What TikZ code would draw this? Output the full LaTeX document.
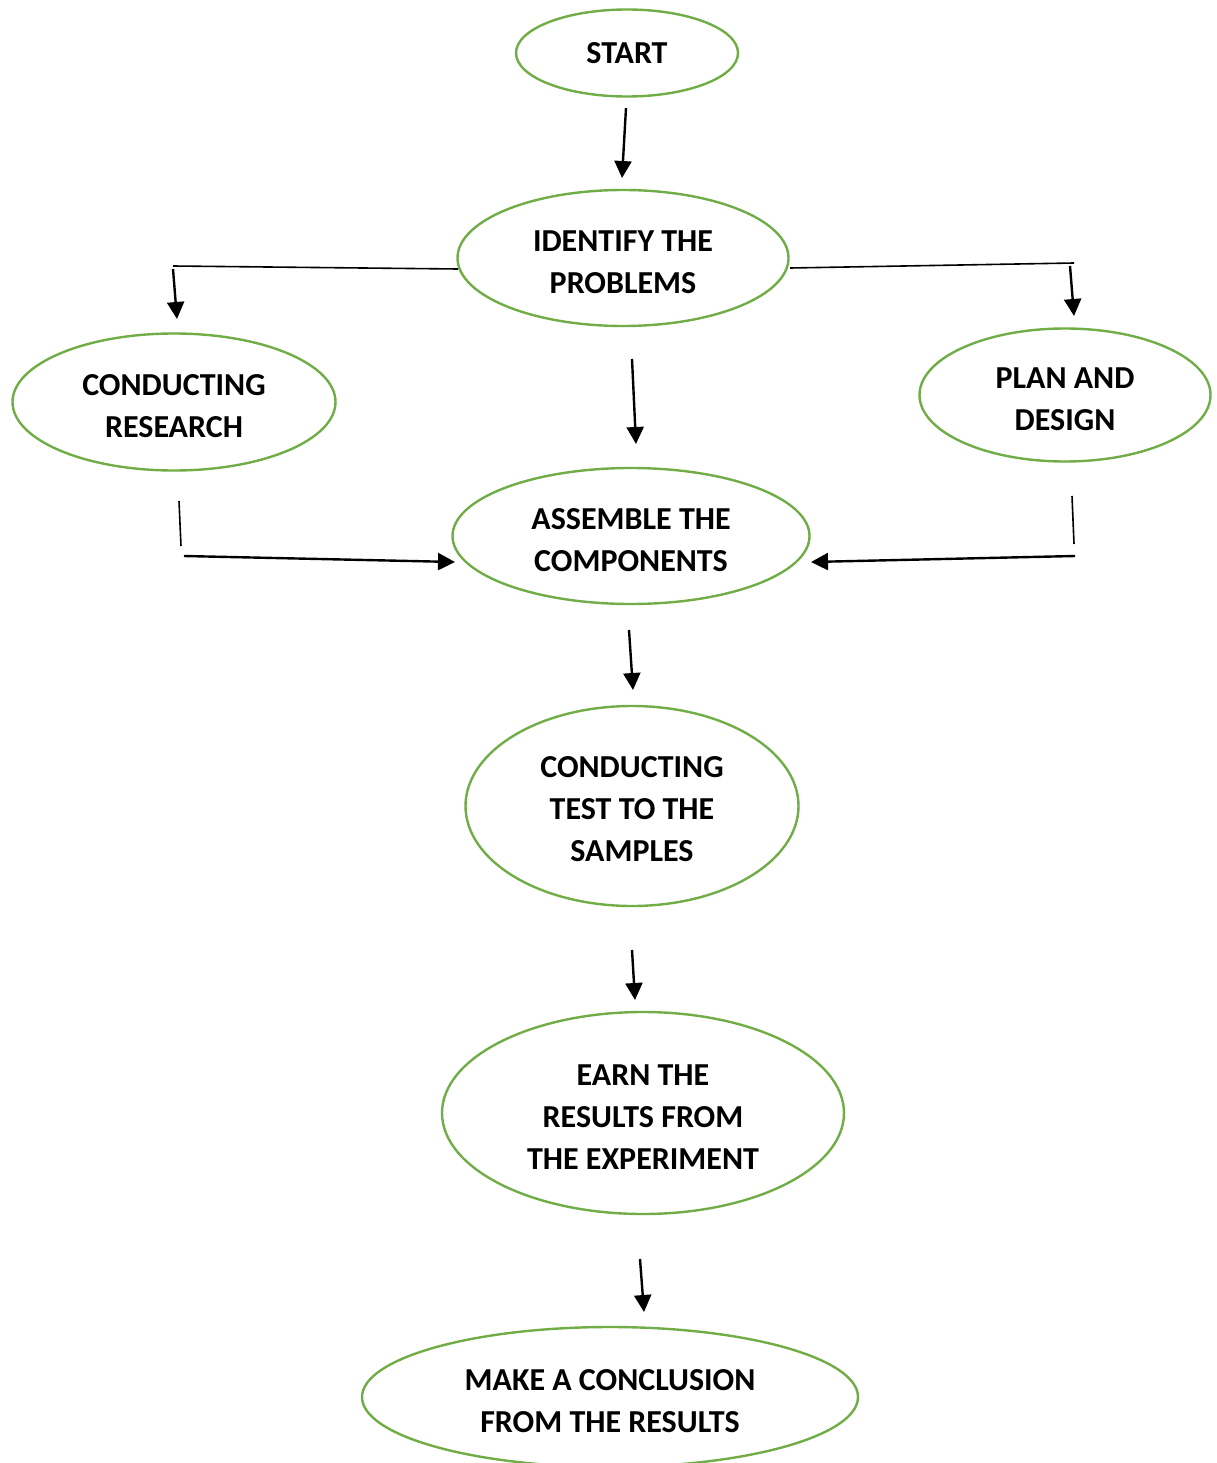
\documentclass[tikz,border=0pt]{standalone}
\usepackage{fontspec}
\setmainfont{Carlito}
\usepackage{xcolor}
\usepackage{tikz}
\usetikzlibrary{shapes.geometric, arrows.meta}
\definecolor{verdehoja}{HTML}{70AD47}

\begin{document}
\begin{tikzpicture}[x=1pt, y=-1pt,
	etapa/.style={ellipse, draw=verdehoja, line width=2.4pt, inner sep=0pt, align=center,
		font=\fontsize{32}{42}\selectfont\bfseries},
	varias/.style={etapa, text height=#1},
	flecha/.style={-{Triangle[length=17pt,width=17pt]}, line width=2.4pt},
	linea/.style={line width=1.6pt}]
	% Marco
	\useasboundingbox (0,0) rectangle (1216,1463);
	
	% Etapas
	\node[etapa, minimum width=222pt, minimum height=87pt] (inicio) at (627,53) {START};
	\node[varias=72pt, minimum width=331pt, minimum height=136pt] (problema) at (623,258) {IDENTIFY THE\\PROBLEMS};
	\node[varias=72pt, minimum width=323pt, minimum height=137pt] (investigacion) at (174,402) {CONDUCTING\\RESEARCH};
	\node[varias=72pt, minimum width=291pt, minimum height=133pt] (diseno) at (1065,395) {PLAN AND\\DESIGN};
	\node[varias=72pt, minimum width=357pt, minimum height=136pt] (montaje) at (631,536) {ASSEMBLE THE\\COMPONENTS};
	\node[varias=112pt, minimum width=333pt, minimum height=200pt] (prueba) at (632,806) {CONDUCTING\\TEST TO THE\\SAMPLES};
	\node[varias=112pt, minimum width=402pt, minimum height=202pt] (resultados) at (643,1113) {EARN THE\\RESULTS FROM\\THE EXPERIMENT};
	\node[varias=72pt, minimum width=496pt, minimum height=140pt] (conclusion) at (610,1397) {MAKE A CONCLUSION\\FROM THE RESULTS};
	
	% Puntos de las flechas
	\coordinate (a1) at (626,108);  \coordinate (a2) at (622,178);
	\coordinate (i1) at (458,269);  \coordinate (i2) at (173,266);
	\coordinate (i3) at (173,269);  \coordinate (i4) at (177,319);
	\coordinate (d1) at (790,268);  \coordinate (d2) at (1074,263);
	\coordinate (d3) at (1070,266); \coordinate (d4) at (1074,316);
	\coordinate (m1) at (632,359);  \coordinate (m2) at (636,444);
	\coordinate (r1) at (179,501);  \coordinate (r2) at (181,546);
	\coordinate (r3) at (184,556);  \coordinate (r4) at (455,562);
	\coordinate (p1) at (1072,496); \coordinate (p2) at (1074,544);
	\coordinate (p3) at (1075,556); \coordinate (p4) at (811,562);
	\coordinate (t1) at (629,630);  \coordinate (t2) at (633,690);
	\coordinate (e1) at (632,950);  \coordinate (e2) at (635,1000);
	\coordinate (c1) at (640,1259); \coordinate (c2) at (644,1312);
	
	% Flujo central
	\draw[flecha] (a1) -- (a2);
	\draw[flecha] (m1) -- (m2);
	\draw[flecha] (t1) -- (t2);
	\draw[flecha] (e1) -- (e2);
	\draw[flecha] (c1) -- (c2);
	
	% Rama izquierda
	\draw[linea] (i1) -- (i2);
	\draw[flecha] (i3) -- (i4);
	\draw[linea] (r1) -- (r2);
	\draw[flecha] (r3) -- (r4);
	
	% Rama derecha
	\draw[linea] (d1) -- (d2);
	\draw[flecha] (d3) -- (d4);
	\draw[linea] (p1) -- (p2);
	\draw[flecha] (p3) -- (p4);
\end{tikzpicture}
\end{document}
